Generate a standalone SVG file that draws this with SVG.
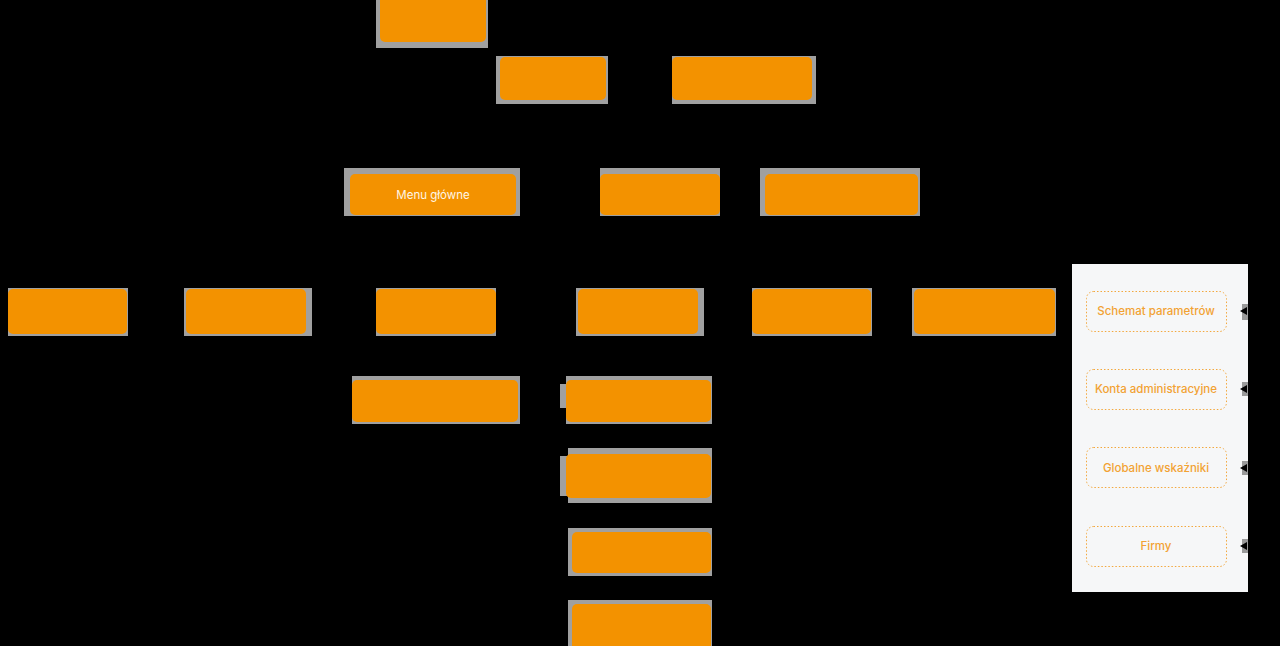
<svg xmlns="http://www.w3.org/2000/svg" width="1280" height="646" viewBox="0 0 1280 646">
<defs>
<style>
.g{fill:#a0a0a0}
.o{fill:#f39200}
.c{stroke:#000;stroke-width:1.2;fill:none}
.d{fill:none;stroke:#f3a83e;stroke-width:1;stroke-dasharray:1.5 2}
.t{font-family:Inter,"Noto Sans","Liberation Sans",sans-serif;font-size:11.5px;font-weight:500;fill:#f2a233;text-anchor:middle}
.w{font-family:Inter,"Noto Sans","Liberation Sans",sans-serif;font-size:11.5px;fill:#fff6e6;text-anchor:middle}
</style>
<marker id="a" viewBox="0 0 8 8" refX="8" refY="4" markerWidth="7" markerHeight="7" orient="auto">
<path d="M0,0 L8,4 L0,8 z" fill="#000"/>
</marker>
</defs>
<rect x="0" y="0" width="1280" height="646" fill="#000"/>
<g id="connectors">
<path class="c" d="M433,42 V174" marker-end="url(#a)"/>
<path class="c" d="M487,21 H555 V57"/>
<path class="c" d="M555,21 H741 V57"/>
<path class="c" d="M555,100 V195 H516" marker-end="url(#a)"/>
<path class="c" d="M741,100 V140 H659 V174" marker-end="url(#a)"/>
<path class="c" d="M741,140 H845 V174" marker-end="url(#a)"/>
<path class="c" d="M433,215 V250"/>
<path class="c" d="M64,250 H975"/>
<path class="c" d="M64,250 V289" marker-end="url(#a)"/>
<path class="c" d="M247,250 V289" marker-end="url(#a)"/>
<path class="c" d="M433,250 V289" marker-end="url(#a)"/>
<path class="c" d="M639,250 V289" marker-end="url(#a)"/>
<path class="c" d="M813,250 V289" marker-end="url(#a)"/>
<path class="c" d="M975,250 V289" marker-end="url(#a)"/>
<path class="c" d="M376,311 H340 V400 H352" marker-end="url(#a)"/>
<path class="c" d="M578,311 H548 V625"/>
<path class="c" d="M548,400 H566" marker-end="url(#a)"/>
<path class="c" d="M548,476 H566" marker-end="url(#a)"/>
<path class="c" d="M548,552 H572" marker-end="url(#a)"/>
<path class="c" d="M548,625 H572" marker-end="url(#a)"/>
<path class="c" d="M1270,250 V546"/>
<path class="c" d="M1270,311 H1241" marker-end="url(#a)"/>
<path class="c" d="M1270,389 H1241" marker-end="url(#a)"/>
<path class="c" d="M1270,468 H1241" marker-end="url(#a)"/>
<path class="c" d="M1270,546 H1241" marker-end="url(#a)"/>
</g>
<g id="n1"><rect class="g" x="376" y="0" width="112" height="48"/><rect class="o" x="380" y="-6" width="106" height="48" rx="5"/></g>
<g id="n2"><rect class="g" x="496" y="56" width="112" height="48"/><rect class="o" x="500" y="57" width="106" height="43" rx="5"/></g>
<g id="n3"><rect class="g" x="672" y="56" width="144" height="48"/><rect class="o" x="672" y="57" width="140" height="43" rx="5"/></g>
<g id="menu"><rect class="g" x="344" y="168" width="176" height="48"/><rect class="o" x="350" y="174" width="166" height="41" rx="5"/><text class="w" x="433" y="199">Menu główne</text></g>
<g id="n5"><rect class="g" x="600" y="168" width="120" height="48"/><rect class="o" x="600" y="174" width="120" height="41" rx="5"/></g>
<g id="n6"><rect class="g" x="760" y="168" width="160" height="48"/><rect class="o" x="765" y="174" width="153" height="41" rx="5"/></g>
<g id="r1"><rect class="g" x="8" y="288" width="120" height="48"/><rect class="o" x="8" y="289" width="119" height="45" rx="5"/></g>
<g id="r2"><rect class="g" x="184" y="288" width="128" height="48"/><rect class="o" x="186" y="289" width="120" height="45" rx="5"/></g>
<g id="r3"><rect class="g" x="376" y="288" width="120" height="48"/><rect class="o" x="376" y="289" width="120" height="45" rx="5"/></g>
<g id="r4"><rect class="g" x="576" y="288" width="128" height="48"/><rect class="o" x="578" y="289" width="120" height="45" rx="5"/></g>
<g id="r5"><rect class="g" x="752" y="288" width="120" height="48"/><rect class="o" x="752" y="289" width="119" height="45" rx="5"/></g>
<g id="r6"><rect class="g" x="912" y="288" width="144" height="48"/><rect class="o" x="914" y="289" width="141" height="45" rx="5"/></g>
<g id="c1"><rect class="g" x="352" y="376" width="168" height="48"/><rect class="o" x="352" y="380" width="166" height="42" rx="5"/></g>
<g id="c2"><rect class="g" x="566" y="376" width="146" height="48"/><rect class="g" x="560" y="384" width="8" height="24"/><rect class="o" x="566" y="380" width="145" height="42" rx="5"/></g>
<g id="c3"><rect class="g" x="568" y="448" width="144" height="55"/><rect class="g" x="560" y="456" width="8" height="40"/><rect class="o" x="566" y="454" width="145" height="44" rx="5"/></g>
<g id="c4"><rect class="g" x="568" y="528" width="144" height="48"/><rect class="o" x="572" y="532" width="139" height="41" rx="5"/></g>
<g id="c5"><rect class="g" x="568" y="600" width="144" height="46"/><rect class="o" x="572" y="604" width="139" height="48" rx="5"/></g>
<g id="panel">
<rect x="1072" y="264" width="176" height="328" fill="#f6f7f8"/>
<rect x="1242" y="304" width="6" height="16" fill="#9a9a9a"/>
<rect x="1242" y="382" width="6" height="14" fill="#9a9a9a"/>
<rect x="1242" y="461" width="6" height="14" fill="#9a9a9a"/>
<rect x="1242" y="539" width="6" height="14" fill="#9a9a9a"/>
</g>
<g id="p1"><rect class="d" x="1086.5" y="291.5" width="140" height="40" rx="7"/><text class="t" x="1156" y="315">Schemat parametrów</text></g>
<g id="p2"><rect class="d" x="1086.5" y="369.5" width="140" height="40" rx="7"/><text class="t" x="1156" y="393">Konta administracyjne</text></g>
<g id="p3"><rect class="d" x="1086.5" y="447.5" width="140" height="40" rx="7"/><text class="t" x="1156" y="472">Globalne wskaźniki</text></g>
<g id="p4"><rect class="d" x="1086.5" y="526.5" width="140" height="40" rx="7"/><text class="t" x="1156" y="550">Firmy</text></g>
<g id="arrows-right">
<path d="M1240,311 l7,-4 v8 z" fill="#000"/>
<path d="M1240,389 l7,-4 v8 z" fill="#000"/>
<path d="M1240,468 l7,-4 v8 z" fill="#000"/>
<path d="M1240,546 l7,-4 v8 z" fill="#000"/>
</g>
</svg>
